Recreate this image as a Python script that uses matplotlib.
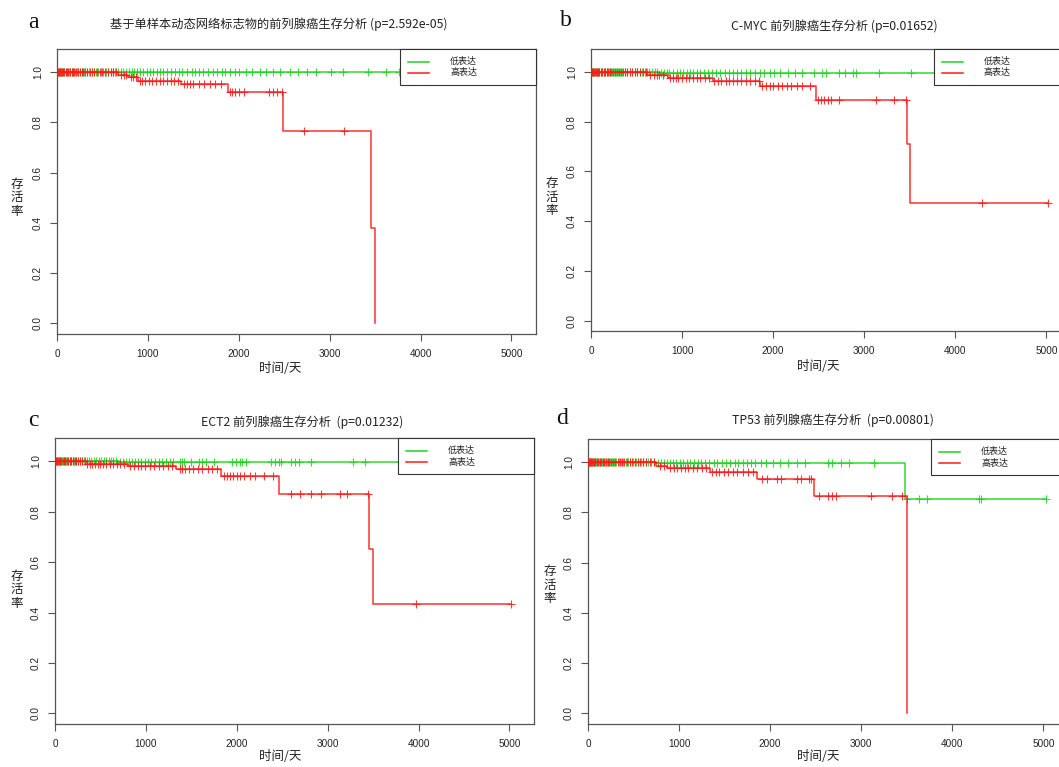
import numpy as np
import matplotlib
matplotlib.use("Agg")
import matplotlib.pyplot as plt
from matplotlib.patches import Rectangle
from matplotlib.lines import Line2D

plt.rcParams['font.family'] = ['Noto Sans CJK SC', 'DejaVu Sans']

# ---------------- data ----------------
titles = ["基于单样本动态网络标志物的前列腺癌生存分析 (p=2.592e-05)",
          "C-MYC 前列腺癌生存分析 (p=0.01652)",
          "ECT2 前列腺癌生存分析  (p=0.01232)",
          "TP53 前列腺癌生存分析  (p=0.00801)"]
panel_letters = ["a", "b", "c", "d"]
legend_labels = ["低表达", "高表达"]
x_ticks = [0, 1000, 2000, 3000, 4000, 5000]
y_ticks = [0.0, 0.2, 0.4, 0.6, 0.8, 1.0]
x_label = "时间/天"
y_label = "存\n活\n率"

# panel a
a_low_times = [0]
a_low_surv = [1.0]
a_low_cens = [8, 18, 28, 40, 52, 66, 80, 95, 112, 128, 145, 162, 180, 198, 215, 235, 255, 275, 300,
              325, 350, 380, 405, 430, 455, 480, 510, 540, 565, 590, 615, 640, 670, 700, 725, 760,
              790, 820, 850, 880, 915, 950, 990, 1020, 1060, 1100, 1130, 1170, 1210, 1250, 1300,
              1340, 1380, 1430, 1480, 1520, 1560, 1610, 1660, 1720, 1760, 1810, 1850, 1900, 1960,
              2000, 2080, 2150, 2230, 2300, 2380, 2450, 2560, 2650, 2750, 2850, 3020, 3150, 3420,
              3620, 3760]
a_high_times = [0, 670, 780, 890, 1360, 1880, 2490, 3460, 3500]
a_high_surv = [1.0, 0.99, 0.98, 0.965, 0.952, 0.92, 0.765, 0.38, 0.0]
a_high_cens = [5, 12, 20, 30, 42, 55, 68, 80, 95, 110, 125, 140, 160, 175, 190, 210, 230, 250, 270,
               290, 310, 335, 360, 385, 410, 440, 470, 500, 530, 560, 590, 620, 650, 700, 740, 760,
               810, 840, 870, 910, 940, 970, 1010, 1050, 1090, 1130, 1170, 1210, 1250, 1290, 1330,
               1400, 1430, 1460, 1500, 1560, 1620, 1680, 1740, 1800, 1900, 1930, 1960, 2000, 2060,
               2330, 2380, 2420, 2470, 2720, 3160]

# panel b
b_low_times = [0, 760]
b_low_surv = [1.0, 0.995]
b_low_cens = [6, 16, 26, 38, 50, 64, 78, 92, 108, 124, 140, 158, 176, 194, 212, 232, 252, 272, 296,
              320, 345, 372, 398, 425, 450, 478, 505, 535, 560, 588, 612, 640, 668, 698, 725, 770,
              800, 830, 860, 900, 940, 980, 1010, 1050, 1090, 1120, 1160, 1200, 1240, 1290, 1330,
              1370, 1420, 1470, 1510, 1560, 1600, 1650, 1700, 1750, 1800, 1850, 1900, 1960, 2010,
              2080, 2160, 2240, 2320, 2450, 2540, 2580, 2720, 2790, 2880, 2910, 3160, 3510, 3800,
              4100, 4500, 4900]
b_high_times = [0, 620, 840, 1335, 1860, 2470, 3470, 3500]
b_high_surv = [1.0, 0.988, 0.975, 0.964, 0.944, 0.888, 0.708, 0.472]
b_high_cens = [4, 11, 19, 29, 40, 53, 66, 79, 93, 108, 122, 138, 155, 172, 188, 205, 225, 245, 262,
               282, 305, 328, 352, 376, 400, 428, 455, 482, 510, 540, 570, 600, 650, 690, 720, 750,
               790, 870, 900, 930, 960, 1000, 1040, 1080, 1120, 1160, 1200, 1250, 1300, 1350, 1390,
               1430, 1480, 1520, 1560, 1600, 1650, 1700, 1750, 1800, 1840, 1880, 1920, 1960, 2000,
               2050, 2100, 2150, 2200, 2260, 2320, 2400, 2490, 2520, 2560, 2600, 2630, 2720, 3130,
               3330, 3460, 4290, 5020]

# panel c
c_low_times = [0, 700]
c_low_surv = [1.0, 0.995]
c_low_cens = [7, 17, 27, 39, 51, 65, 79, 94, 110, 126, 142, 160, 178, 196, 214, 234, 254, 276, 298,
              322, 348, 374, 400, 428, 452, 480, 508, 536, 562, 590, 615, 642, 670, 720, 750, 780,
              810, 845, 880, 915, 950, 985, 1020, 1060, 1100, 1140, 1180, 1220, 1260, 1300, 1370,
              1400, 1420, 1500, 1580, 1620, 1660, 1750, 1950, 1990, 2030, 2060, 2100, 2380, 2420,
              2460, 2490, 2600, 2640, 2680, 2820, 3280, 3410, 3800, 4200, 4600, 4950]
c_high_times = [0, 350, 800, 1330, 1830, 2460, 3460, 3500]
c_high_surv = [1.0, 0.99, 0.98, 0.97, 0.94, 0.87, 0.65, 0.435]
c_high_cens = [5, 13, 22, 32, 44, 57, 70, 84, 98, 113, 128, 145, 162, 180, 198, 216, 236, 258, 280,
               302, 326, 356, 380, 410, 440, 470, 500, 530, 560, 600, 640, 680, 720, 760, 830, 870,
               910, 950, 990, 1040, 1090, 1140, 1190, 1240, 1290, 1370, 1400, 1430, 1470, 1520,
               1570, 1620, 1680, 1730, 1780, 1860, 1890, 1920, 1960, 2000, 2040, 2080, 2140, 2200,
               2300, 2400, 2600, 2700, 2820, 2930, 3140, 3210, 3440, 3970, 5020]

# panel d
d_low_times = [0, 750, 3480]
d_low_surv = [1.0, 0.995, 0.855]
d_low_cens = [6, 15, 25, 36, 48, 61, 75, 89, 104, 120, 136, 153, 170, 188, 206, 225, 245, 266, 288,
              312, 336, 362, 388, 414, 440, 466, 494, 522, 550, 578, 606, 634, 662, 690, 720, 770,
              800, 830, 865, 900, 935, 970, 1005, 1045, 1085, 1125, 1165, 1205, 1245, 1290, 1330,
              1380, 1420, 1470, 1510, 1560, 1610, 1650, 1700, 1750, 1790, 1830, 1900, 1950, 2030,
              2110, 2200, 2300, 2380, 2640, 2680, 2780, 2870, 3140, 3500, 3630, 3720, 4290, 4310,
              5030]
d_high_times = [0, 750, 870, 1335, 1860, 2480, 3500]
d_high_surv = [1.0, 0.985, 0.978, 0.962, 0.934, 0.867, 0.0]
d_high_cens = [4, 12, 21, 31, 42, 54, 67, 81, 96, 111, 127, 143, 160, 178, 196, 215, 235, 256, 278,
               300, 324, 348, 374, 400, 428, 456, 486, 516, 546, 576, 606, 640, 680, 720, 790, 830,
               900, 940, 980, 1020, 1060, 1100, 1150, 1200, 1250, 1300, 1360, 1400, 1440, 1490,
               1540, 1590, 1640, 1700, 1760, 1810, 1915, 1960, 2080, 2120, 2300, 2340, 2430, 2450,
               2540, 2630, 2680, 2720, 3110, 3340, 3450]

panels = [
    (a_low_times, a_low_surv, a_low_cens, a_high_times, a_high_surv, a_high_cens),
    (b_low_times, b_low_surv, b_low_cens, b_high_times, b_high_surv, b_high_cens),
    (c_low_times, c_low_surv, c_low_cens, c_high_times, c_high_surv, c_high_cens),
    (d_low_times, d_low_surv, d_low_cens, d_high_times, d_high_surv, d_high_cens),
]

# ---------------- layout (pixels) ----------------
W, H = 1059, 767
axes_px = [(57, 49, 536, 334), (591, 49, 1071, 331), (55, 438, 534, 724), (588, 439, 1068, 724)]
title_px = [(279, 24), (834, 26), (302, 422), (833, 420)]
letter_px = [(33, 22), (566, 20), (33, 420), (562, 418)]
xlabel_px = [(280, 369), (818, 367), (280, 757), (818, 757)]
ylabel_px = [(17, 198), (552, 197), (17, 590), (550, 585)]

GREEN = "#1ED41E"
RED = "#FF1A1A"

fig = plt.figure(figsize=(W / 100, H / 100), dpi=100)


def surv_at(times, surv, t):
    idx = np.searchsorted(times, t, side="right") - 1
    return np.asarray(surv)[idx]


def draw_curve(ax, times, surv, cens, color):
    end = max(max(times), max(cens))
    xs = list(times) + [end]
    ys = list(surv) + [surv[-1]]
    ax.step(xs, ys, where="post", color=color, lw=1.1, alpha=0.9, zorder=3)
    cy = surv_at(times, surv, cens)
    ax.plot(cens, cy, ls="none", marker="+", ms=6, mew=0.8, color=color, alpha=0.85, zorder=3)


for i, (lt, ls_, lc, ht, hs, hc) in enumerate(panels):
    l, t, r, b = axes_px[i]
    ax = fig.add_axes([l / W, 1 - b / H, (r - l) / W, (b - t) / H])
    ax.set_xlim(0, 5270)
    ax.set_ylim(-0.042, 1.092)
    draw_curve(ax, lt, ls_, lc, GREEN)
    draw_curve(ax, ht, hs, hc, RED)

    ax.set_xticks(x_ticks)
    ax.set_xticklabels([str(v) for v in x_ticks], family="Liberation Sans", fontsize=7.2, color="#222")
    ax.set_yticks(y_ticks)
    ax.set_yticklabels([f"{v:.1f}" for v in y_ticks], family="Liberation Sans", fontsize=7.2,
                       color="#222", rotation=90, va="center")
    ax.tick_params(axis="both", direction="out", length=5, width=0.8, color="#555")
    ax.tick_params(axis="x", pad=6)
    ax.tick_params(axis="y", pad=5)
    for sp in ax.spines.values():
        sp.set_color("#555")
        sp.set_linewidth(0.9)

    # legend box
    wpx, hpx = r - l, b - t
    x0 = 343 / wpx
    lh = 36 / hpx
    ax.add_patch(Rectangle((x0, 1 - lh), 1 - x0, lh, transform=ax.transAxes, facecolor="white",
                           edgecolor="#333", lw=0.8, zorder=10, clip_on=False))
    for j, (col, lab) in enumerate(zip([GREEN, RED], legend_labels)):
        yy = 1 - (12.5 + 11.5 * j) / hpx
        ax.add_line(Line2D([x0 + 8 / wpx, x0 + 29 / wpx], [yy, yy], transform=ax.transAxes,
                           color=col, lw=1.1, zorder=11, clip_on=False))
        ax.text(x0 + 50 / wpx, yy, lab, transform=ax.transAxes, fontsize=6.5, va="center",
                ha="left", color="#222", zorder=11)

    fig.text(title_px[i][0] / W, 1 - title_px[i][1] / H, titles[i], ha="center", va="center",
             fontsize=8.8, color="#222")
    fig.text(letter_px[i][0] / W, 1 - letter_px[i][1] / H, panel_letters[i], ha="center",
             va="center", fontsize=17, family="Liberation Serif", color="#111")
    fig.text(xlabel_px[i][0] / W, 1 - xlabel_px[i][1] / H, x_label, ha="center", va="center",
             fontsize=9, color="#222")
    fig.text(ylabel_px[i][0] / W, 1 - ylabel_px[i][1] / H, y_label, ha="center", va="center",
             fontsize=9, color="#222", linespacing=1.05)

fig.savefig("out.png", dpi=100)
